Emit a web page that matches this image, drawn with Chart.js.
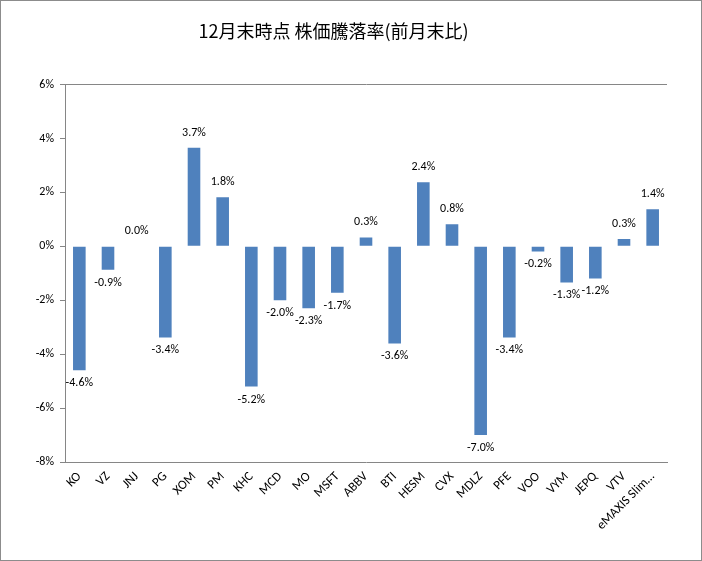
<!DOCTYPE html>
<html>
<head>
<meta charset="utf-8">
<script src="https://cdn.jsdelivr.net/npm/chart.js@4/dist/chart.umd.min.js"></script>
<style>
  html, body { margin: 0; padding: 0; background: #fff; }
  #wrap { width: 702px; height: 561px; position: relative; }
</style>
</head>
<body>
<div id="wrap"><canvas id="barChart"></canvas></div>
<script>
// 銘柄と前月末比の騰落率(%)
const tickers = ['KO', 'VZ', 'JNJ', 'PG', 'XOM', 'PM', 'KHC', 'MCD', 'MO', 'MSFT', 'ABBV',
  'BTI', 'HESM', 'CVX', 'MDLZ', 'PFE', 'VOO', 'VYM', 'JEPQ', 'VTV', 'eMAXIS Slim…'];
const changes = [-4.6, -0.87, 0.0, -3.38, 3.66, 1.82, -5.2, -2.0, -2.3, -1.72, 0.33,
  -3.6, 2.38, 0.82, -7.0, -3.38, -0.19, -1.34, -1.19, 0.27, 1.38];
const yTicks = [-8, -6, -4, -2, 0, 2, 4, 6];

const axisGrey = '#868686';
const font = 'Calibri, "Liberation Sans", Carlito, sans-serif';

// white background + outer frame
const frame = {
  id: 'frame',
  beforeDraw(chart) {
    const c = chart.ctx;
    c.save();
    c.fillStyle = '#fff';
    c.fillRect(0, 0, chart.width, chart.height);
    c.strokeStyle = '#8c8c8c';
    c.lineWidth = 1;
    c.strokeRect(0.5, 0.5, chart.width - 1, chart.height - 1);
    c.restore();
  }
};

// value labels at the end of each bar
const valueLabels = {
  id: 'valueLabels',
  afterDatasetsDraw(chart) {
    const c = chart.ctx;
    const meta = chart.getDatasetMeta(0);
    c.save();
    c.font = '12px ' + font;
    c.fillStyle = '#000';
    c.textAlign = 'center';
    meta.data.forEach((bar, i) => {
      const v = changes[i];
      const txt = v.toFixed(1) + '%';
      if (v >= 0) {
        c.textBaseline = 'bottom';
        c.fillText(txt, bar.x, bar.y - 9);
      } else {
        c.textBaseline = 'top';
        c.fillText(txt, bar.x, bar.y + 7);
      }
    });
    c.restore();
  }
};

new Chart(document.getElementById('barChart'), {
  type: 'bar',
  data: {
    labels: tickers,
    datasets: [{
      data: changes,
      backgroundColor: '#4F81BD',
      borderWidth: 0,
      barPercentage: 0.44,
      categoryPercentage: 1.0
    }]
  },
  options: {
    responsive: true,
    maintainAspectRatio: false,
    animation: false,
    layout: { padding: { left: 0, right: 35, top: 0, bottom: 0 } },
    plugins: {
      legend: { display: false },
      tooltip: { enabled: false },
      title: {
        display: true,
        text: '12月末時点 株価騰落率(前月末比)',
        color: '#000',
        font: { family: '"Noto Sans CJK JP", sans-serif', size: 18, weight: 'normal' },
        padding: { top: 20, bottom: 43 }
      }
    },
    scales: {
      x: {
        grid: { display: false, drawTicks: false },
        border: { display: true, color: axisGrey },
        afterFit(s) { s.height = 99; },
        ticks: {
          color: '#000',
          font: { family: font, size: 13 },
          minRotation: 45,
          maxRotation: 45,
          autoSkip: false,
          padding: 7
        }
      },
      y: {
        min: -8,
        max: 6,
        afterFit(s) { s.width = 65; },
        afterBuildTicks(s) { s.ticks = yTicks.map(v => ({ value: v })); },
        grid: {
          color: ctx => (ctx.tick && ctx.tick.value === 6 ? axisGrey : 'rgba(0,0,0,0)'),
          tickColor: axisGrey,
          tickLength: 5,
          drawTicks: true
        },
        border: { display: true, color: axisGrey },
        ticks: {
          color: '#000',
          font: { family: font, size: 12 },
          padding: 6,
          callback: v => v + '%'
        }
      }
    }
  },
  plugins: [frame, valueLabels]
});
</script>
</body>
</html>
